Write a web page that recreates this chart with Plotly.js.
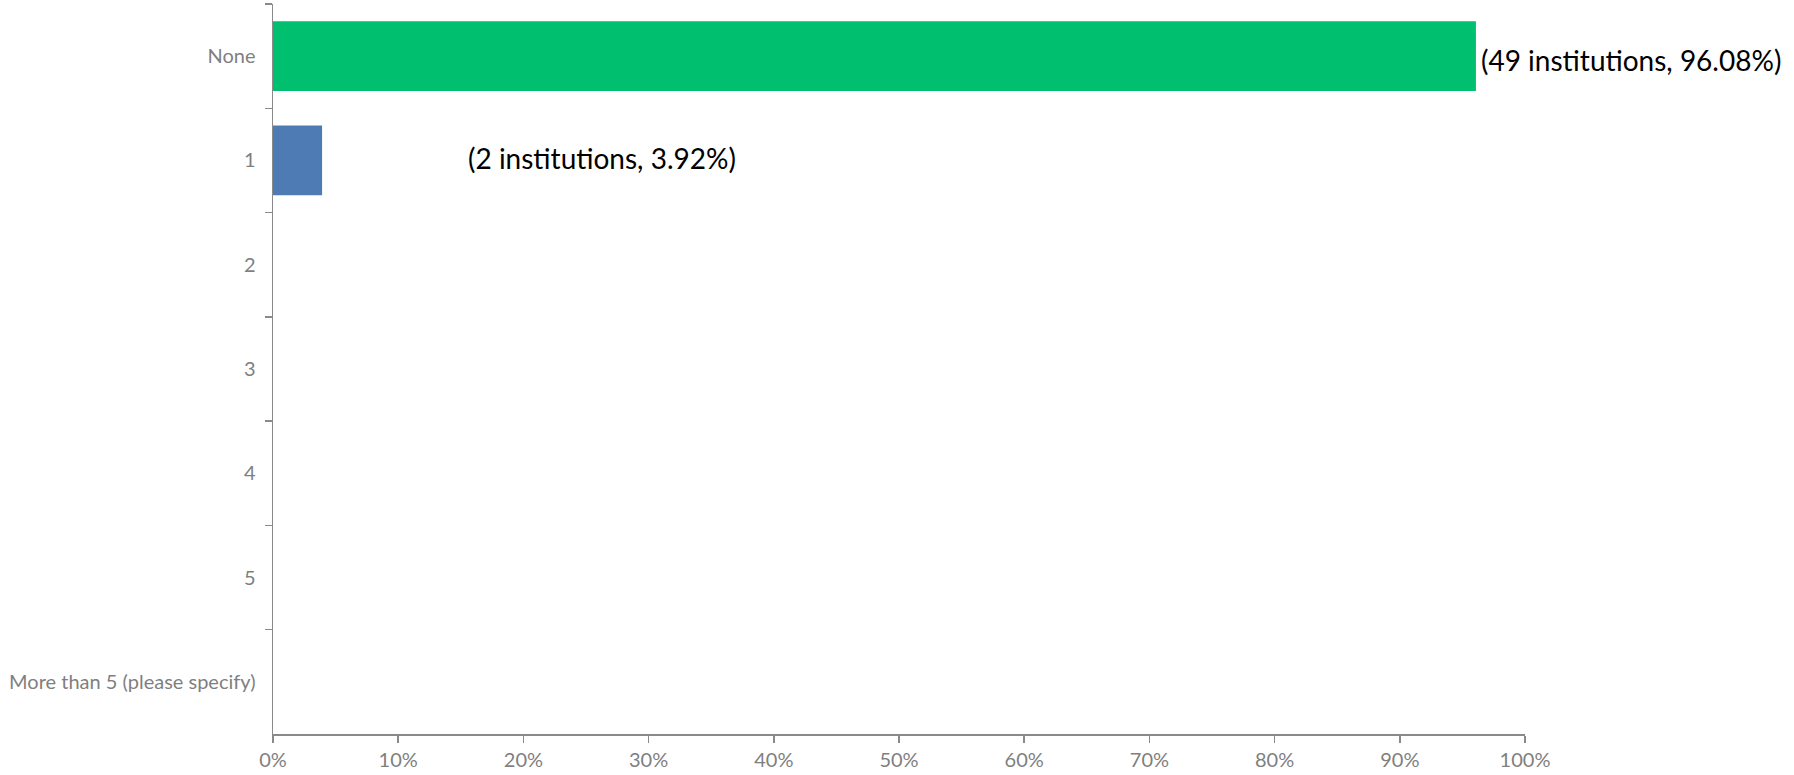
<!DOCTYPE html>
<html>
<head>
<meta charset="utf-8">
<script src="https://cdn.plot.ly/plotly-3.0.1.min.js"></script>
<style>html,body{margin:0;padding:0;background:#fff;}#chart{width:1794px;height:775px;}</style>
</head>
<body>
<div id="chart"></div>
<script>
const categories = ["None", "1", "2", "3", "4", "5", "More than 5 (please specify)"];
const percentages = [96.08, 3.92, 0, 0, 0, 0, 0];
const counts = [49, 2, 0, 0, 0, 0, 0];
const barColors = ["#00BF6F", "#4F7BB5", "#4F7BB5", "#4F7BB5", "#4F7BB5", "#4F7BB5", "#4F7BB5"];
const xTickValues = [0, 10, 20, 30, 40, 50, 60, 70, 80, 90, 100];

const labelText = (i) => "(" + counts[i] + " institutions, " + percentages[i].toFixed(2) + "%)";

const trace = {
  type: "bar",
  orientation: "h",
  y: categories,
  x: percentages,
  marker: { color: barColors, line: { width: 0 } },
  width: 0.67,
  hoverinfo: "none"
};

const axisColor = "#8a8a8a";
const tickFont = { family: "Lato, 'Open Sans', sans-serif", size: 20, color: "#7f7f7f" };
const labelFont = { family: "Lato, 'Open Sans', sans-serif", size: 28, color: "#000" };

const annotations = [
  { xref: "x", yref: "y", x: percentages[0], y: categories[0], text: labelText(0),
    xanchor: "left", yanchor: "middle", xshift: 3, yshift: -4, showarrow: false,
    font: labelFont },
  { xref: "x", yref: "y", x: 15.4, y: categories[1], text: labelText(1),
    xanchor: "left", yanchor: "middle", yshift: 2, showarrow: false,
    font: labelFont }
];

const layout = {
  width: 1794,
  height: 775,
  margin: { l: 272.5, r: 269, t: 3.5, b: 41.3, pad: 0 },
  paper_bgcolor: "#fff",
  plot_bgcolor: "#fff",
  showlegend: false,
  bargap: 0.33,
  xaxis: {
    range: [0, 100],
    tickvals: xTickValues,
    ticktext: xTickValues.map(v => v + "%"),
    showgrid: false,
    zeroline: false,
    showline: true,
    linecolor: axisColor,
    linewidth: 1.5,
    ticks: "outside",
    ticklen: 7,
    tickwidth: 1.5,
    tickcolor: axisColor,
    tickfont: tickFont,
    fixedrange: true
  },
  yaxis: {
    type: "category",
    categoryorder: "array",
    categoryarray: categories,
    autorange: "reversed",
    showgrid: false,
    zeroline: false,
    showline: true,
    linecolor: axisColor,
    linewidth: 1.5,
    ticks: "outside",
    tickson: "boundaries",
    ticklen: 7,
    tickwidth: 1.5,
    tickcolor: axisColor,
    tickfont: tickFont,
    ticklabelstandoff: 12,
    fixedrange: true
  },
  annotations: annotations
};

Plotly.newPlot("chart", [trace], layout, { displayModeBar: false, staticPlot: true });
</script>
</body>
</html>
